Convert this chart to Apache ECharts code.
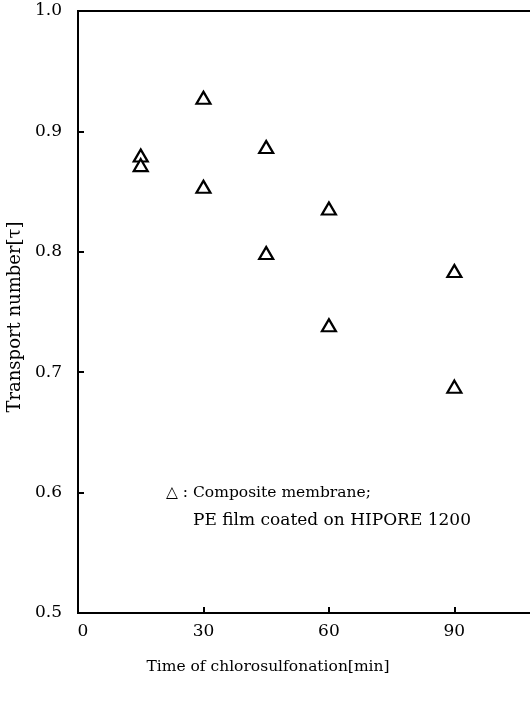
<!DOCTYPE html>
<html>
<head>
<meta charset="utf-8">
<script src="https://cdn.jsdelivr.net/npm/echarts@6/dist/echarts.min.js"></script>
<style>
html,body{margin:0;padding:0;background:#fff;}
#chart{width:530px;height:709px;}
</style>
</head>
<body>
<div id="chart"></div>
<script>
var xTime = [15, 15, 30, 30, 45, 45, 60, 60, 90, 90];
var yTransport = [0.880, 0.872, 0.928, 0.854, 0.887, 0.799, 0.836, 0.739, 0.784, 0.688];
var xTicks = [0, 30, 60, 90];
var yTicks = [0.5, 0.6, 0.7, 0.8, 0.9, 1.0];
var legendLine1 = '\u25B3 : Composite membrane;';
var legendLine2 = 'PE film coated on HIPORE 1200';
var xTitle = 'Time of chlorosulfonation[min]';
var yTitle = 'Transport number[\u03C4]';

var font = '"DejaVu Serif", "Liberation Serif", serif';
var points = xTime.map(function (x, i) { return [x, yTransport[i]]; });

var chart = echarts.init(document.getElementById('chart'), null, {renderer: 'canvas'});
chart.setOption({
  backgroundColor: '#ffffff',
  animation: false,
  grid: {
    left: 78, right: -8, top: 11, bottom: 96,
    outerBoundsMode: 'none', containLabel: false,
    show: true, borderColor: '#000', borderWidth: 2, backgroundColor: 'transparent'
  },
  xAxis: {
    type: 'value', min: 0, max: 110, interval: 30,
    name: xTitle, nameLocation: 'middle', nameGap: 46,
    nameTextStyle: {fontFamily: font, fontSize: 15.5, color: '#000', padding: [0, 80, 0, 0]},
    axisLine: {show: true, onZero: false, lineStyle: {color: '#000', width: 2}},
    axisTick: {show: true, inside: true, length: 6, lineStyle: {color: '#000', width: 2}},
    axisLabel: {
      fontFamily: font, fontSize: 17, color: '#000', margin: 10,
      formatter: function (v) {
        if (v === 0) return '{z|0}';
        return xTicks.indexOf(v) >= 0 ? String(v) : '';
      },
      rich: {z: {fontFamily: font, fontSize: 17, color: '#000', padding: [0, 0, 0, 10]}}
    },
    splitLine: {show: false}
  },
  yAxis: {
    type: 'value', min: 0.5, max: 1.0, interval: 0.1,
    name: yTitle, nameLocation: 'middle', nameGap: 52, nameRotate: 90,
    nameTextStyle: {fontFamily: font, fontSize: 18, color: '#000', padding: [0, 10, 0, 0]},
    axisLine: {show: true, onZero: false, lineStyle: {color: '#000', width: 2}},
    axisTick: {show: true, inside: true, length: 6, lineStyle: {color: '#000', width: 2}},
    axisLabel: {
      fontFamily: font, fontSize: 17, color: '#000', margin: 16,
      formatter: function (v) {
        var s = v.toFixed(1);
        return yTicks.map(function (t) { return t.toFixed(1); }).indexOf(s) >= 0 ? s : '';
      }
    },
    splitLine: {show: false}
  },
  series: [{
    type: 'scatter',
    data: points,
    symbol: 'triangle',
    symbolSize: [14, 12],
    itemStyle: {color: '#fff', borderColor: '#000', borderWidth: 2.2, opacity: 1}
  }],
  graphic: [
    {type: 'text', left: 166, top: 485, style: {text: legendLine1, font: '15.5px ' + font, fill: '#000'}},
    {type: 'text', left: 193, top: 512, style: {text: legendLine2, font: '17px ' + font, fill: '#000'}}
  ]
});
</script>
</body>
</html>
